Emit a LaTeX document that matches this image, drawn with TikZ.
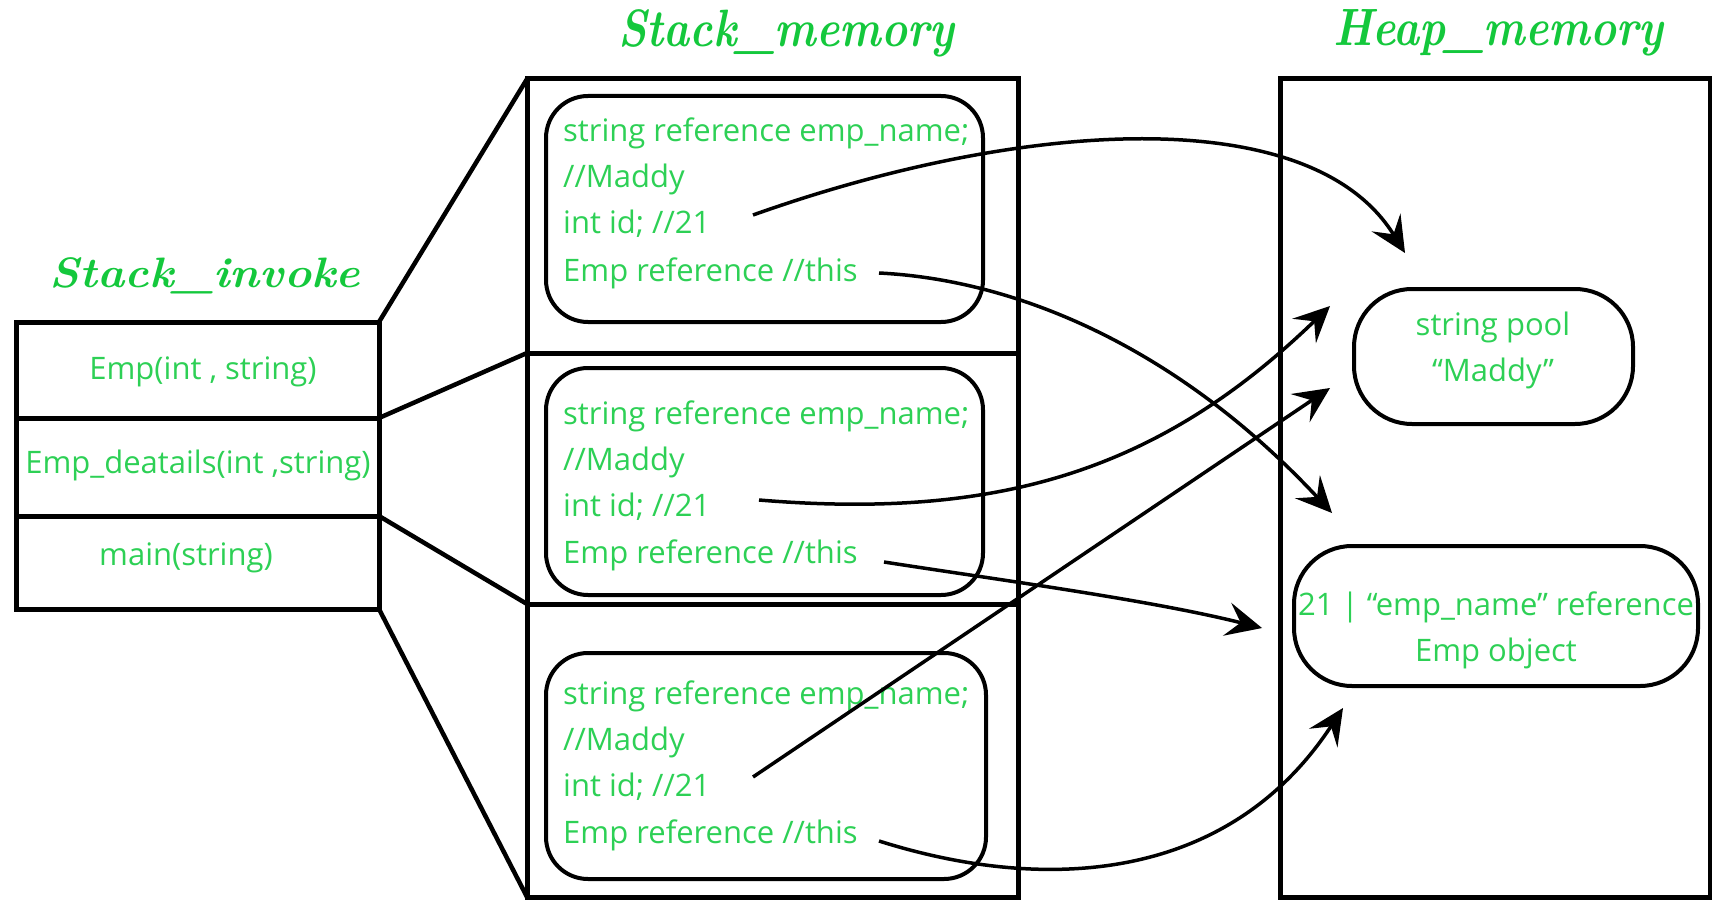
\documentclass[tikz,border=0pt]{standalone}
\usepackage{fontspec}
\newfontfamily\bodyfont{Open Sans}
\usetikzlibrary{arrows.meta}
\definecolor{codegreen}{RGB}{45,208,85}
\definecolor{titlegreen}{RGB}{20,200,60}
\tikzset{
  frame/.style={draw=black, line width=5pt, inner sep=0pt},
  slot/.style={draw=black, line width=4pt, rounded corners=42pt},
  pill/.style={draw=black, line width=4pt, rounded corners=58pt},
  code/.style={text=codegreen, font=\bodyfont\fontsize{31}{46}\selectfont, inner sep=0pt},
  heading/.style={text=titlegreen, font=\fontsize{50}{56}\selectfont\bfseries\itshape, inner sep=0pt},
  ref/.style={draw=black, line width=3.5pt, -{Stealth[length=36pt,width=34pt,inset=14pt,line width=2pt]}},
  funnel/.style={draw=black, line width=4.5pt},
}
\begin{document}
\begin{tikzpicture}[x=1pt,y=-1pt]
\useasboundingbox (0,0) rectangle (1712,901);

% ---- call stack ----
\node[heading] (tinv) at (205,276) {\scalebox{0.92}[0.85]{Stack\_invoke}};
\draw[frame] (16,322) rectangle (379,418);
\draw[frame] (16,418) rectangle (379,516);
\draw[frame] (16,516) rectangle (379,609);
\coordinate (f1ne) at (379,322);
\coordinate (f1se) at (379,418);
\coordinate (f2se) at (379,516);
\coordinate (f3se) at (379,609);
\node[code] (c1) at (203,372) {Emp(int , string)};
\node[code] (c2) at (198,465) {Emp\_deatails(int ,string)};
\node[code] (c3) at (186,558) {main(string)};

% ---- stack memory ----
\node[heading] (tstack) at (786,33) {\scalebox{0.88}[1.05]{Stack\_memory}};
\draw[frame] (527,79) rectangle (1018,353);
\draw[frame] (527,353) rectangle (1018,604);
\draw[frame] (527,604) rectangle (1018,897);
\coordinate (s1nw) at (527,79);
\coordinate (s2nw) at (527,353);
\coordinate (s3nw) at (527,604);
\coordinate (s3sw) at (527,897);

\draw[funnel] (f1ne) -- (s1nw);
\draw[funnel] (f1se) -- (s2nw);
\draw[funnel] (f2se) -- (s3nw);
\draw[funnel] (f3se) -- (s3sw);

\draw[slot] (546,96) rectangle (983,322);
\draw[slot] (546,368) rectangle (983,595);
\draw[slot] (546,653) rectangle (986,879);

\foreach \b/\y in {a/142,b/424,c/704}{
  \node[code,anchor=base west] (\b1) at (563,\y) {string reference emp\_name;};
  \node[code,anchor=base west] (\b2) at (563,\y+46) {//Maddy};
  \node[code,anchor=base west] (\b3) at (563,\y+92) {int id; //21};
  \node[code,anchor=base west] (\b4) at (563,\y+139) {Emp reference //this};
}

% ---- heap ----
\node[heading] (theap) at (1498,33) {\scalebox{0.88}[1.05]{Heap\_memory}};
\draw[frame] (1280,79) rectangle (1710,897);
\draw[pill] (1354,289) rectangle (1633,424);
\node[code, align=center] (pool) at (1493,350) {string pool\\“Maddy”};
\draw[pill] (1294,546) rectangle (1698,686);
\node[code, align=center] (obj) at (1496,630) {21 | “emp\_name” reference\\Emp object};

% ---- references ----
\coordinate (a1s) at (753,215);  \coordinate (a1t) at (1405,253);
\coordinate (a2s) at (879,273);  \coordinate (a2t) at (1332,513);
\coordinate (a3s) at (759,500);  \coordinate (a3t) at (1330,306);
\coordinate (a4s) at (884,562);  \coordinate (a4t) at (1262,628);
\coordinate (a5s) at (753,777);  \coordinate (a5t) at (1330,388);
\coordinate (a6s) at (879,841);  \coordinate (a6t) at (1343,708);

\draw[ref] (a1s) .. controls (1020,120) and (1310,100) .. (a1t);
\draw[ref] (a2s) .. controls (1020,280) and (1180,350) .. (a2t);
\draw[ref] (a3s) .. controls (1000,520) and (1160,470) .. (a3t);
\draw[ref] (a4s) .. controls (1000,580) and (1150,600) .. (a4t);
\draw[ref] (a5s) -- (a5t);
\draw[ref] (a6s) .. controls (1050,895) and (1230,880) .. (a6t);
\end{tikzpicture}
\end{document}
